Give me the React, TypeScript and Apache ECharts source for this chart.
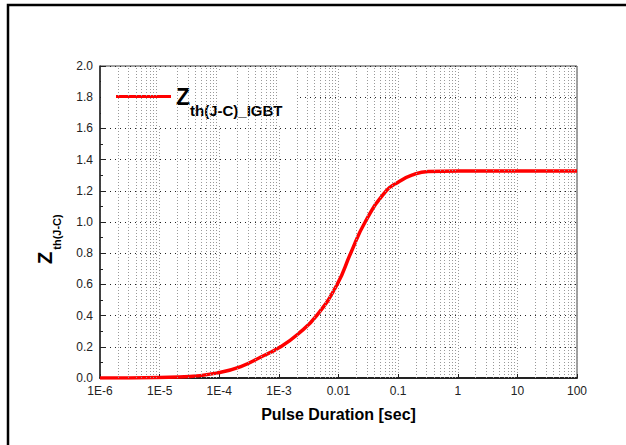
import React, { useEffect, useRef } from "react";
import * as echarts from "echarts";

// Pulse duration [sec] and Zth(J-C)
const pulseDuration = [1e-6, 1e-5, 3.2e-5, 1e-4, 2.3e-4, 4.9e-4, 1.07e-3, 2.1e-3, 4.3e-3, 9.5e-3, 1.6e-2, 2.8e-2, 6.3e-2, 1e-1, 1.7e-1, 3.2e-1, 1, 10, 100];
const zthIGBT = [0.0, 0.004, 0.01, 0.035, 0.073, 0.133, 0.2, 0.282, 0.4, 0.6, 0.8, 1.0, 1.2, 1.255, 1.3, 1.324, 1.327, 1.327, 1.327];

const xTickLabels = ["1E-6", "1E-5", "1E-4", "1E-3", "0.01", "0.1", "1", "10", "100"];
const decades = [1e-6, 1e-5, 1e-4, 1e-3, 1e-2, 1e-1, 1, 10];
const minorMultipliers = [2, 3, 4, 5, 6, 7, 8, 9];

const FONT = "Liberation Sans, Arial, sans-serif";

export default function App() {
  const ref = useRef<HTMLDivElement>(null);
  useEffect(() => {
    if (!ref.current) return;
    const chart = echarts.init(ref.current, undefined, { renderer: "svg" });
    const minorLines: any[] = [];
    decades.forEach((d) => minorMultipliers.forEach((m) => minorLines.push({ xAxis: Math.log10(d * m) })));
    chart.setOption({
      animation: false,
      backgroundColor: "#fff",
      textStyle: { fontFamily: FONT },
      grid: { left: 100, top: 66, right: 49, bottom: 67, show: true, borderColor: "#444", borderWidth: 1 },
      graphic: [
        {
          type: "rect",
          shape: { x: 8, y: 5, width: 640, height: 460 },
          style: { fill: "none", stroke: "#000", lineWidth: 2.5 },
          silent: true,
        },
        {
          type: "text",
          x: 45,
          y: 258,
          rotation: Math.PI / 2,
          silent: true,
          style: {
            text: "Z",
            font: "bold 20px " + FONT,
            fill: "#000",
            align: "center",
            verticalAlign: "middle",
          },
        },
        {
          type: "text",
          x: 57,
          y: 232,
          rotation: Math.PI / 2,
          silent: true,
          style: {
            text: "th(J-C)",
            font: "bold 11px " + FONT,
            fill: "#000",
            align: "center",
            verticalAlign: "middle",
          },
        },
      ],
      legend: {
        show: true,
        left: 101,
        top: 72,
        padding: [3, 15, 7, 15],
        backgroundColor: "#fff",
        icon: "rect",
        itemWidth: 55,
        itemHeight: 3,
        itemGap: 0,
        formatter: () => "{z|Z}{s|th(J-C)_IGBT}",
        textStyle: {
          rich: {
            z: { fontSize: 23, fontWeight: "bold", fontFamily: FONT, color: "#000", lineHeight: 23 },
            s: { fontSize: 15, fontWeight: "bold", fontFamily: FONT, color: "#000", lineHeight: 15, padding: [28, 0, 0, 0] },
          },
        },
        data: ["Zth"],
      },
      xAxis: [
        {
          type: "log",
          logBase: 10,
          min: 1e-6,
          max: 100,
          name: "Pulse Duration [sec]",
          nameLocation: "middle",
          nameGap: 28,
          nameTextStyle: { fontSize: 16, fontWeight: "bold", color: "#000", fontFamily: FONT },
          axisLine: { show: true, lineStyle: { color: "#222", width: 2 } },
          axisTick: { show: true, inside: true, length: 4, lineStyle: { color: "#222" } },
          axisLabel: {
            fontSize: 12,
            color: "#222",
            margin: 7,
            fontFamily: FONT,
            formatter: (v: number) => xTickLabels[Math.round(Math.log10(v)) + 6] ?? "",
          },
          splitLine: { show: true, lineStyle: { color: "#999", type: [1, 2], width: 1 } },
        },
        {
          type: "value",
          min: -6,
          max: 2,
          show: false,
          position: "bottom",
          axisLine: { show: false, onZero: false },
          splitLine: { show: false },
        },
      ],
      yAxis: {
        type: "value",
        min: 0,
        max: 2,
        interval: 0.2,
        axisLine: { show: true, onZero: false, lineStyle: { color: "#222", width: 1.5 } },
        axisTick: { show: true, inside: true, length: 5, lineStyle: { color: "#222" } },
        minorTick: { show: true, splitNumber: 2, length: 3, lineStyle: { color: "#222" } },
        axisLabel: {
          fontSize: 12,
          color: "#222",
          margin: 7,
          fontFamily: FONT,
          formatter: (v: number) => v.toFixed(1),
        },
        splitLine: { show: true, lineStyle: { color: "#222", type: [1, 4], width: 1 } },
      },
      series: [
        {
          name: "Zth",
          type: "line",
          xAxisIndex: 0,
          data: pulseDuration.map((t, i) => [t, zthIGBT[i]]),
          smooth: 0.5,
          symbol: "none",
          lineStyle: { color: "#ff0000", width: 3.5 },
          itemStyle: { color: "#ff0000" },
          z: 3,
        },
        {
          name: "minorGrid",
          type: "line",
          xAxisIndex: 1,
          data: [],
          symbol: "none",
          silent: true,
          z: 1,
          markLine: {
            silent: true,
            symbol: ["none", "none"],
            label: { show: false },
            lineStyle: { color: "#999", type: [1, 2], width: 1 },
            emphasis: { disabled: true },
            data: minorLines,
          },
        },
      ],
    });
    return () => chart.dispose();
  }, []);
  return <div ref={ref} style={{ position: "absolute", left: 0, top: 0, width: 626, height: 445 }} />;
}
